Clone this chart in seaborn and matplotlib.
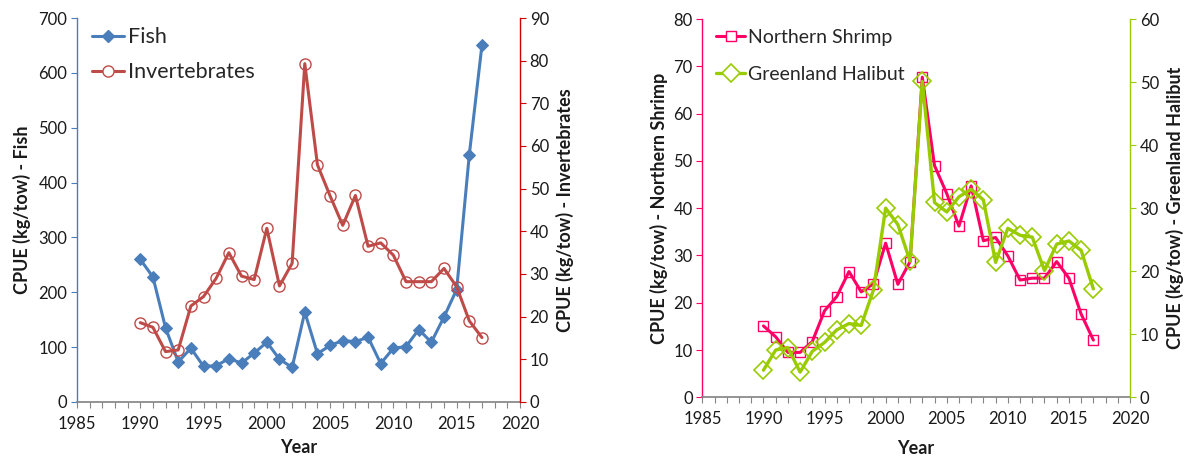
import numpy as np
import pandas as pd
import matplotlib
matplotlib.use("Agg")
import matplotlib.pyplot as plt
from matplotlib.ticker import MultipleLocator
from matplotlib.lines import Line2D
import seaborn as sns

sns.set_theme(style="white")
plt.rcParams["font.family"] = ["Lato", "DejaVu Sans"]

years = list(range(1990, 2018))

fish = [260, 228, 135, 73, 98, 65, 66, 79, 71, 89, 109, 78, 63, 164,
        88, 103, 112, 110, 118, 70, 98, 101, 132, 109, 155, 205, 451, 651]
invertebrates = [18.6, 17.5, 11.8, 12.2, 22.5, 24.7, 29.0, 35.0, 29.5, 28.7,
                 40.7, 27.2, 32.5, 79.3, 55.6, 48.3, 41.4, 48.4, 36.5, 37.3,
                 34.4, 28.2, 28.2, 28.2, 31.3, 27.0, 19.0, 15.1]
northern_shrimp = [15.1, 12.8, 9.5, 9.5, 11.8, 18.3, 21.3, 26.6, 22.3, 24.0,
                   32.6, 23.9, 28.7, 67.7, 49.0, 43.1, 36.2, 44.7, 33.1, 33.8,
                   29.9, 24.8, 25.2, 25.2, 28.7, 25.2, 17.6, 12.1]
greenland_halibut = [4.3, 7.5, 7.9, 4.0, 7.3, 8.7, 10.7, 11.7, 11.4, 17.0,
                     30.0, 27.4, 21.6, 50.1, 30.9, 29.4, 31.8, 33.0, 31.3, 21.4,
                     26.8, 25.7, 25.4, 20.1, 24.3, 24.8, 23.3, 17.2]

df = pd.DataFrame({
    "Year": years,
    "Fish": fish,
    "Invertebrates": invertebrates,
    "Northern Shrimp": northern_shrimp,
    "Greenland Halibut": greenland_halibut,
})

C_FISH = "#4A7EBB"
C_INV = "#BE4B48"
C_SHRIMP = "#FF0066"
C_HAL = "#99CC00"
AXIS_GREY = "#868686"
TXT = "#1a1a1a"

fig = plt.figure(figsize=(11.86, 4.57), dpi=100)
axL = fig.add_axes([0.0649, 0.1204, 0.3735, 0.8402])
axR = fig.add_axes([0.5922, 0.1306, 0.3606, 0.8278])


def style_x(ax, labelpad):
    ax.set_xlim(1985, 2020)
    ax.xaxis.set_major_locator(MultipleLocator(5))
    ax.xaxis.set_minor_locator(MultipleLocator(1))
    ax.tick_params(axis="x", which="both", direction="out", length=4,
                   width=0.8, color=AXIS_GREY, bottom=True, labelsize=12,
                   labelcolor=TXT, pad=6)
    ax.spines["bottom"].set_color(AXIS_GREY)
    ax.spines["top"].set_visible(False)
    ax.set_xlabel("Year", fontsize=13, fontweight="bold", color=TXT,
                  labelpad=labelpad)


def style_y(ax, color, side):
    ax.tick_params(axis="y", which="major", direction="out", length=4,
                   width=0.8, color=color, labelsize=12, labelcolor=TXT,
                   left=(side == "left"), right=(side == "right"), pad=3)
    ax.spines[side].set_color(color)
    ax.spines[side].set_linewidth(1.0)


# ---- Fish / invertebrates ----
sns.lineplot(data=df, x="Year", y="Fish", ax=axL, color=C_FISH, lw=2.2,
             marker="D", markersize=6.5, markeredgecolor=C_FISH,
             markerfacecolor=C_FISH)
axL2 = axL.twinx()
sns.lineplot(data=df, x="Year", y="Invertebrates", ax=axL2, color=C_INV, lw=2.2,
             marker="o", markersize=8, markeredgecolor=C_INV,
             markerfacecolor="none", markeredgewidth=1.0)
axL.set_ylim(0, 700)
axL.yaxis.set_major_locator(MultipleLocator(100))
axL2.set_ylim(0, 90)
axL2.yaxis.set_major_locator(MultipleLocator(10))
style_x(axL, 5)
style_y(axL, C_FISH, "left")
style_y(axL2, "#D00000", "right")
axL.spines["right"].set_visible(False)
axL2.spines["left"].set_visible(False)
axL2.spines["top"].set_visible(False)
axL2.spines["bottom"].set_visible(False)
axL.set_ylabel("CPUE (kg/tow) - Fish", fontsize=13, fontweight="bold",
               color=TXT, labelpad=5)
axL2.set_ylabel("CPUE (kg/tow) - Invertebrates", fontsize=13,
                fontweight="bold", color=TXT, labelpad=5)
handlesL = [
    Line2D([], [], color=C_FISH, lw=2.2, marker="D", markersize=6.5,
           markerfacecolor=C_FISH, markeredgecolor=C_FISH),
    Line2D([], [], color=C_INV, lw=2.2, marker="o", markersize=8,
           markerfacecolor="white", markeredgecolor=C_INV),
]
axL.legend(handlesL, ["Fish", "Invertebrates"], loc="upper left",
           bbox_to_anchor=(0.0, 1.015), frameon=False, fontsize=15.5,
           handlelength=1.5, handletextpad=0.15, labelspacing=0.7,
           borderaxespad=0.3)
if axL2.get_legend():
    axL2.get_legend().remove()

# ---- Northern shrimp / Greenland halibut ----
sns.lineplot(data=df, x="Year", y="Northern Shrimp", ax=axR, color=C_SHRIMP,
             lw=2.2, marker="s", markersize=7, markeredgecolor=C_SHRIMP,
             markerfacecolor="none", markeredgewidth=1.0)
axR2 = axR.twinx()
sns.lineplot(data=df, x="Year", y="Greenland Halibut", ax=axR2, color=C_HAL,
             lw=2.4, marker="D", markersize=9, markeredgecolor=C_HAL,
             markerfacecolor="none", markeredgewidth=1.2)
axR.set_ylim(0, 80)
axR.yaxis.set_major_locator(MultipleLocator(10))
axR2.set_ylim(0, 60)
axR2.yaxis.set_major_locator(MultipleLocator(10))
style_x(axR, 9)
style_y(axR, C_SHRIMP, "left")
style_y(axR2, C_HAL, "right")
axR.spines["right"].set_visible(False)
axR2.spines["left"].set_visible(False)
axR2.spines["top"].set_visible(False)
axR2.spines["bottom"].set_visible(False)
axR.set_ylabel("CPUE (kg/tow) - Northern Shrimp", fontsize=13,
               fontweight="bold", color=TXT, labelpad=4)
axR2.set_ylabel("CPUE (kg/tow) - Greenland Halibut", fontsize=13,
                fontweight="bold", color=TXT, labelpad=5)
handlesR = [
    Line2D([], [], color=C_SHRIMP, lw=2.2, marker="s", markersize=7,
           markerfacecolor="white", markeredgecolor=C_SHRIMP),
    Line2D([], [], color=C_HAL, lw=2.4, marker="D", markersize=9,
           markerfacecolor="white", markeredgecolor=C_HAL, markeredgewidth=1.2),
]
axR.legend(handlesR, ["Northern Shrimp", "Greenland Halibut"], loc="upper left",
           bbox_to_anchor=(0.0, 1.01), frameon=False, fontsize=14,
           handlelength=1.5, handletextpad=0.15, labelspacing=1.05,
           borderaxespad=0.3)
if axR2.get_legend():
    axR2.get_legend().remove()

fig.savefig("out.png", dpi=100)
